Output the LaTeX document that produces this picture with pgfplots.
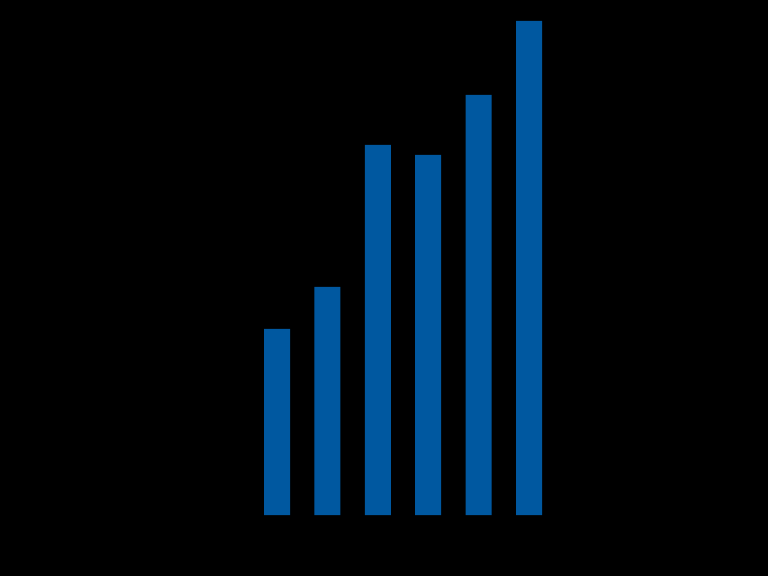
\documentclass[border=0pt]{standalone}
\usepackage{pgfplots}
\pgfplotsset{compat=1.18}
\definecolor{barblue}{RGB}{0,88,160}
\begin{document}
\begin{tikzpicture}
  % black page, 768 x 576
  \fill[black] (0,0) rectangle (768pt,576pt);
  \useasboundingbox (0,0) rectangle (768pt,576pt);
  \begin{axis}[
    at={(226.6pt,61pt)}, anchor=south west,
    scale only axis=true,
    width=352.8pt, height=494pt,
    xmin=-1, xmax=6,
    ymin=0, ymax=49.4,
    hide axis,
    ybar,
    bar width=26pt,
  ]
    \addplot[fill=barblue, draw=none] coordinates {
      (0, 18.6)
      (1, 22.8)
      (2, 37.0)
      (3, 36.0)
      (4, 42.0)
      (5, 49.4)
    };
  \end{axis}
\end{tikzpicture}
\end{document}
